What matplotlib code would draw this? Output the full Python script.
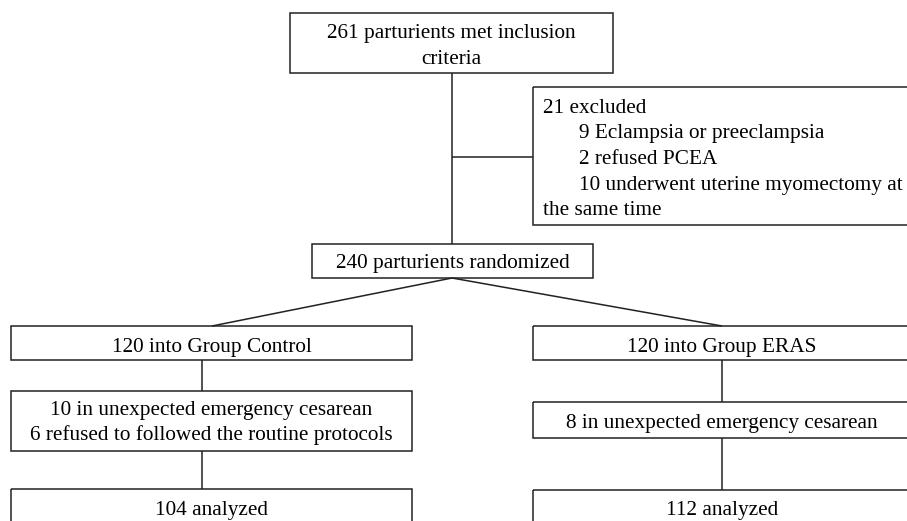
import matplotlib
matplotlib.use("Agg")
import matplotlib.pyplot as plt
from matplotlib.patches import Rectangle

# ---- content ----
top_lines = ["261 parturients met inclusion", "criteria"]
excluded_lines = ["21 excluded", "9 Eclampsia or preeclampsia", "2 refused PCEA",
                  "10 underwent uterine myomectomy at", "the same time"]
excluded_indent = [False, True, True, True, False]
random_lines = ["240 parturients randomized"]
control_lines = [["120 into Group Control"],
                 ["10 in unexpected emergency cesarean", "6 refused to followed the routine protocols"],
                 ["104 analyzed"]]
eras_lines = [["120 into Group ERAS"],
              ["8 in unexpected emergency cesarean"],
              ["112 analyzed"]]

# ---- layout (pixel coordinates, y downwards) ----
W, H = 907, 521
fig = plt.figure(figsize=(W / 100, H / 100), dpi=100)
ax = fig.add_axes([0, 0, 1, 1])
ax.set_xlim(0, W)
ax.set_ylim(H, 0)
ax.axis("off")

FONT = "Liberation Serif"
FS = 15.3
LW = 1.1
C = "#222222"

def box(x0, y0, x1, y1):
    ax.add_patch(Rectangle((x0, y0), x1 - x0, y1 - y0, fill=False, ec=C, lw=LW,
                           clip_on=True))

def line(x0, y0, x1, y1):
    ax.plot([x0, x1], [y0, y1], color=C, lw=LW, solid_capstyle="butt")

def txt(x, y, s, ha="center"):
    ax.text(x, y, s, ha=ha, va="baseline", fontsize=FS, family=FONT, color="black")

# top box
box(290, 13, 613, 73)
for s, yb in zip(top_lines, [38, 64]):
    txt(451.5, yb, s)

# main vertical line & exclusion branch
line(452, 73, 452, 244)
line(452, 157, 533, 157)
box(533, 87, 915, 225)
for s, ind, yb in zip(excluded_lines, excluded_indent, [113, 138, 164, 190, 215]):
    txt(579 if ind else 543, yb, s, ha="left")

# randomized box
box(312, 244, 593, 278)
txt(452.5, 268, random_lines[0])

# split lines
line(452, 278, 212, 326)
line(452, 278, 722, 326)

# control column
ctrl_boxes = [(11, 326, 412, 360), (11, 391, 412, 451), (11, 489, 412, 540)]
ctrl_base = [[352], [415, 440], [515]]
for (x0, y0, x1, y1), lines, bases in zip(ctrl_boxes, control_lines, ctrl_base):
    box(x0, y0, x1, y1)
    for s, yb in zip(lines, bases):
        txt(211.5, yb, s)
line(202, 360, 202, 391)
line(202, 451, 202, 489)

# ERAS column
eras_boxes = [(533, 326, 915, 360), (533, 402, 915, 438), (533, 490, 915, 540)]
eras_base = [[352], [428], [515]]
for (x0, y0, x1, y1), lines, bases in zip(eras_boxes, eras_lines, eras_base):
    box(x0, y0, x1, y1)
    for s, yb in zip(lines, bases):
        txt(722, yb, s)
line(722, 360, 722, 402)
line(722, 438, 722, 490)

fig.savefig("out.png", dpi=100, facecolor="white")
